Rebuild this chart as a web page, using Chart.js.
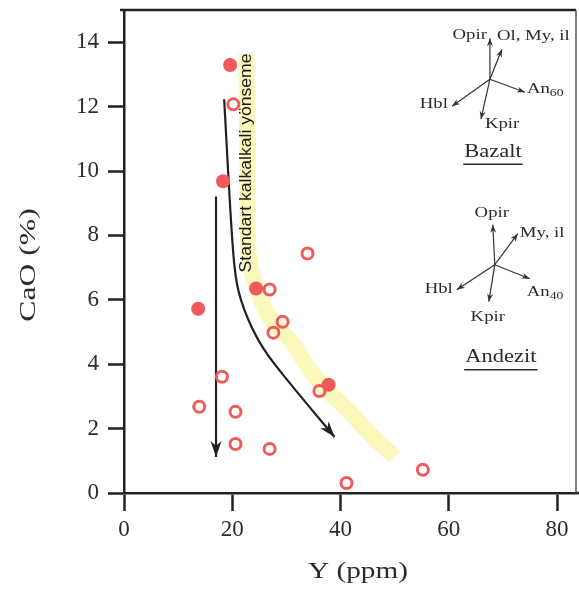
<!DOCTYPE html>
<html>
<head>
<meta charset="utf-8">
<script src="https://cdn.jsdelivr.net/npm/chart.js@4.4.0/dist/chart.umd.min.js"></script>
<style>
  html, body { margin: 0; padding: 0; background: #ffffff; overflow: hidden; }
  canvas { display: block; }
</style>
</head>
<body>
<canvas id="chart_Y" width="579" height="592"></canvas>
<script>
/************************************************************
    DATA
*************************************************************/
// filled circles
var filledY   = [19.6, 18.3, 13.7, 24.4, 37.8];
var filledCaO = [13.29, 9.68, 5.72, 6.35, 3.36];

// open circles
var openY   = [20.2, 33.9, 26.9, 29.3, 27.6, 18.1, 13.9, 20.6, 20.6, 26.9, 36.1, 41.1, 55.2];
var openCaO = [12.07, 7.44, 6.32, 5.32, 4.98, 3.61, 2.68, 2.52, 1.52, 1.37, 3.17, 0.31, 0.72];

// yellow "standart kalkalkali yönseme" band
var bandY   = [22.6, 22.8, 23.0, 24.6, 27.2, 30.6, 35.7, 41.3, 45.7, 50.0];
var bandCaO = [13.63, 10.67, 7.56, 6.32, 5.38, 4.76, 3.52, 2.58, 1.80, 1.12];

// straight arrow
var arrowAY   = [17.0, 17.0];
var arrowACaO = [9.21, 1.12];

// curved arrow
var arrowBY   = [18.5, 20.0, 20.9, 22.8, 25.9, 30.6, 38.9];
var arrowBCaO = [12.23, 7.87, 6.47, 5.45, 4.45, 3.42, 1.74];

var xTicks = [0, 20, 40, 60, 80];
var yTicks = [0, 2, 4, 6, 8, 10, 12, 14];

var xTitle = 'Y (ppm)';
var yTitle = 'CaO (%)';
var trendText = 'Standart kalkalkali yönseme';

// vector diagrams (offsets in px from the diagram centre)
var diagrams = [
  { at: [67.6, 12.85], name: 'Bazalt', nameAt: [3, 73],
    vectors: [
      { dx: 0,   dy: -41, label: 'Opir',       lx: -3,  ly: -44, align: 'right' },
      { dx: 12,  dy: -30, label: 'Ol, My, il', lx: 7,   ly: -43, align: 'left' },
      { dx: 35,  dy: 13,  label: 'An', sub: '60', lx: 37, ly: 10, align: 'left' },
      { dx: -38, dy: 27,  label: 'Hbl',        lx: -42, ly: 25,  align: 'right' },
      { dx: -9,  dy: 40,  label: 'Kpir',       lx: -5,  ly: 45,  align: 'left' }
    ] },
  { at: [68.5, 7.09], name: 'Andezit', nameAt: [6, 93],
    vectors: [
      { dx: -2,  dy: -40, label: 'Opir',    lx: -3,  ly: -52, align: 'center' },
      { dx: 23,  dy: -31, label: 'My, il',  lx: 25,  ly: -32, align: 'left' },
      { dx: 35,  dy: 14,  label: 'An', sub: '40', lx: 32, ly: 27, align: 'left' },
      { dx: -38, dy: 25,  label: 'Hbl',     lx: -42, ly: 24,  align: 'right' },
      { dx: -6,  dy: 37,  label: 'Kpir',    lx: -7,  ly: 52,  align: 'center' }
    ] }
];

function toPoints(xs, ys) {
  return xs.map(function (x, i) { return { x: x, y: ys[i] }; });
}

var serif = '"Liberation Serif", "Times New Roman", serif';
var ink = '#2b2b2b';
var red = '#f05a5c';
var stretch = 1.25;   // the scanned labels are wider than plain Times

/* ------------------
  helpers
-------------------*/
function drawHead(ctx, x, y, ang, len, wid) {
  ctx.beginPath();
  ctx.moveTo(x, y);
  ctx.lineTo(x - len * Math.cos(ang) + wid / 2 * Math.sin(ang), y - len * Math.sin(ang) - wid / 2 * Math.cos(ang));
  ctx.lineTo(x - len * Math.cos(ang) * 0.7, y - len * Math.sin(ang) * 0.7);
  ctx.lineTo(x - len * Math.cos(ang) - wid / 2 * Math.sin(ang), y - len * Math.sin(ang) + wid / 2 * Math.cos(ang));
  ctx.closePath();
  ctx.fill();
}

// text squeezed/stretched along its own direction; returns drawn width
function wideText(ctx, text, x, y, align, sx, rot) {
  ctx.save();
  ctx.translate(x, y);
  if (rot) ctx.rotate(rot);
  ctx.scale(sx, 1);
  ctx.textAlign = align;
  ctx.fillText(text, 0, 0);
  var w = ctx.measureText(text).width * sx;
  ctx.restore();
  return w;
}

/* ------------------
  plugin: frame, arrowheads, texts, diagrams
-------------------*/
var extras = {
  id: 'extras',
  beforeDatasetsDraw: function (chart) {
    var ctx = chart.ctx, a = chart.chartArea;
    ctx.save();
    ctx.strokeStyle = '#222';
    ctx.lineWidth = 2.5;
    ctx.beginPath();
    ctx.moveTo(a.left - 4, a.top);
    ctx.lineTo(a.right, a.top);
    ctx.stroke();
    // x axis line runs on to the page edge
    ctx.beginPath();
    ctx.moveTo(a.right, a.bottom);
    ctx.lineTo(chart.width, a.bottom);
    ctx.stroke();
    ctx.strokeStyle = '#555';
    ctx.lineWidth = 1.5;
    ctx.beginPath();
    ctx.moveTo(a.right, a.top);
    ctx.lineTo(a.right, a.bottom);
    ctx.stroke();
    ctx.restore();
  },
  afterDatasetDraw: function (chart, args) {
    var ctx = chart.ctx;
    var ds = chart.data.datasets[args.index];
    if (ds.id === 'band') {
      // rotated trend label on top of the band, squeezed to its length
      var xs = chart.scales.x, ys = chart.scales.y;
      var px = xs.getPixelForValue(22.6);
      var p0 = ys.getPixelForValue(6.85), p1 = ys.getPixelForValue(13.65);
      ctx.save();
      ctx.font = '17px "Liberation Sans", Arial, sans-serif';
      var w = ctx.measureText(trendText).width;
      ctx.fillStyle = '#1a1a1a';
      ctx.textBaseline = 'middle';
      wideText(ctx, trendText, px, p0, 'left', (p0 - p1) / w, -Math.PI / 2);
      ctx.restore();
    }
    if (ds.arrow) {
      var pts = chart.getDatasetMeta(args.index).data;
      var last = pts[pts.length - 1];
      var prev = pts[pts.length - 2];
      var fx = (last.cp1x !== undefined && last.cp1x !== last.x) ? last.cp1x : prev.x;
      var fy = (last.cp1y !== undefined && last.cp1y !== last.y) ? last.cp1y : prev.y;
      var ang = Math.atan2(last.y - fy, last.x - fx);
      ctx.save();
      ctx.fillStyle = '#222';
      drawHead(ctx, last.x, last.y, ang, 16, 11);
      ctx.restore();
    }
  },
  afterDraw: function (chart) {
    var ctx = chart.ctx, xs = chart.scales.x, ys = chart.scales.y, a = chart.chartArea;
    ctx.save();

    // axis titles
    ctx.fillStyle = ink;
    ctx.textBaseline = 'middle';
    ctx.font = '24px ' + serif;
    wideText(ctx, xTitle, (a.left + a.right) / 2 + 8, 572, 'center', 1.22);
    wideText(ctx, yTitle, 29, 265, 'center', 1.32, -Math.PI / 2);

    diagrams.forEach(function (d) {
      var cx = xs.getPixelForValue(d.at[0]);
      var cy = ys.getPixelForValue(d.at[1]);
      ctx.strokeStyle = '#333';
      ctx.fillStyle = '#333';
      ctx.lineWidth = 1.2;
      d.vectors.forEach(function (v) {
        var tx = cx + v.dx, ty = cy + v.dy;
        ctx.beginPath();
        ctx.moveTo(cx, cy);
        ctx.lineTo(tx, ty);
        ctx.stroke();
        drawHead(ctx, tx, ty, Math.atan2(v.dy, v.dx), 8, 6);
      });
      ctx.fillStyle = ink;
      ctx.textBaseline = 'middle';
      d.vectors.forEach(function (v) {
        ctx.font = '15px ' + serif;
        var lx = cx + v.lx, ly = cy + v.ly;
        var w = wideText(ctx, v.label, lx, ly, v.align, stretch);
        if (v.sub) {
          ctx.font = '11px ' + serif;
          wideText(ctx, v.sub, lx + w, ly + 4, 'left', stretch);
        }
      });
      ctx.font = '18px ' + serif;
      var nx = cx + d.nameAt[0], ny = cy + d.nameAt[1];
      var nw = wideText(ctx, d.name, nx, ny, 'center', stretch);
      ctx.strokeStyle = ink;
      ctx.lineWidth = 1.5;
      ctx.beginPath();
      ctx.moveTo(nx - nw / 2 - 1, ny + 12);
      ctx.lineTo(nx + nw / 2 + 1, ny + 12);
      ctx.stroke();
    });
    ctx.restore();
  }
};

/* ------------------
  scatter chart
-------------------*/
var chart_Y = new Chart(document.getElementById('chart_Y'), {
  type: 'scatter',
  data: {
    datasets: [
      {
        id: 'band',
        type: 'line',
        data: toPoints(bandY, bandCaO),
        borderColor: 'rgba(250, 242, 140, 0.6)',
        borderWidth: 16,
        borderCapStyle: 'butt',
        pointRadius: 0,
        tension: 0.4,
        fill: false,
        order: 5
      },
      {
        type: 'line',
        arrow: true,
        data: toPoints(arrowAY, arrowACaO),
        borderColor: '#222',
        borderWidth: 2.2,
        pointRadius: 0,
        fill: false,
        order: 3
      },
      {
        type: 'line',
        arrow: true,
        data: toPoints(arrowBY, arrowBCaO),
        borderColor: '#222',
        borderWidth: 2.2,
        pointRadius: 0,
        tension: 0.35,
        fill: false,
        order: 3
      },
      {
        label: 'open',
        data: toPoints(openY, openCaO),
        backgroundColor: 'rgba(255,255,255,0)',
        borderColor: red,
        borderWidth: 3,
        pointRadius: 5.5,
        order: 1
      },
      {
        label: 'filled',
        data: toPoints(filledY, filledCaO),
        backgroundColor: red,
        borderWidth: 0,
        pointRadius: 7,
        order: 1
      }
    ]
  },
  plugins: [extras],
  options: {
    responsive: false,
    animation: false,
    layout: { autoPadding: false, padding: { left: 0, top: 10, right: 3, bottom: 0 } },
    plugins: {
      legend: { display: false },
      tooltip: { enabled: false }
    },
    scales: {
      x: {
        type: 'linear',
        min: 0,
        max: 83.5,
        afterBuildTicks: function (scale) {
          scale.ticks = xTicks.map(function (v) { return { value: v }; });
        },
        afterFit: function (scale) {
          scale.height = 99;
          scale.paddingLeft = 0;
          scale.paddingRight = 0;
        },
        border: { display: true, color: '#222', width: 2.5 },
        grid: { drawOnChartArea: false, drawTicks: true, tickLength: 18, tickWidth: 2.5, tickColor: '#222' },
        ticks: { color: ink, padding: 5, maxRotation: 0, font: { family: serif, size: 23 } },
        title: { display: false }
      },
      y: {
        type: 'linear',
        min: 0,
        max: 15,
        afterBuildTicks: function (scale) {
          scale.ticks = yTicks.map(function (v) { return { value: v }; });
        },
        afterFit: function (scale) {
          scale.width = 124;
          scale.paddingTop = 0;
          scale.paddingBottom = 0;
        },
        border: { display: true, color: '#222', width: 2.5 },
        grid: { drawOnChartArea: false, drawTicks: true, tickLength: 16, tickWidth: 2.5, tickColor: '#222' },
        ticks: { color: ink, padding: 9, font: { family: serif, size: 23 } },
        title: { display: false }
      }
    }
  }
});
</script>
</body>
</html>
